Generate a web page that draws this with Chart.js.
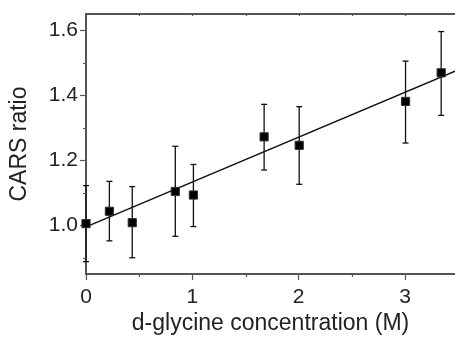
<!DOCTYPE html>
<html>
<head>
<meta charset="utf-8">
<script src="https://cdn.jsdelivr.net/npm/chart.js@4/dist/chart.umd.min.js"></script>
<style>
  html, body { margin: 0; padding: 0; background: #fff; }
  #wrap { width: 455px; height: 337px; }
</style>
</head>
<body>
<div id="wrap"><canvas id="c" width="455" height="337"></canvas></div>
<script>
// ---- data ----
const concentration = [0, 0.22, 0.435, 0.84, 1.01, 1.675, 2.005, 3.005, 3.34];
const carsRatio     = [1.005, 1.043, 1.008, 1.104, 1.093, 1.272, 1.246, 1.381, 1.469];
const errUpper      = [1.122, 1.135, 1.119, 1.243, 1.187, 1.372, 1.365, 1.505, 1.596];
const errLower      = [0.888, 0.952, 0.900, 0.966, 0.996, 1.170, 1.126, 1.253, 1.338];
const fitX          = [0, 3.47];
const fitY          = [0.995, 1.474];
const xTickValues   = [0, 1, 2, 3];
const xMinorTicks   = [0.5, 1.5, 2.5];
const yTickValues   = [1.0, 1.2, 1.4, 1.6];
const yMinorTicks   = [0.9, 1.1, 1.3, 1.5];

const points = concentration.map((x, i) => ({ x: x, y: carsRatio[i] }));
const errorSegments = [];
concentration.forEach((x, i) => {
  errorSegments.push({ x: x, y: errLower[i] });
  errorSegments.push({ x: x, y: errUpper[i] });
  errorSegments.push({ x: x, y: null });
});
const fitLine = fitX.map((x, i) => ({ x: x, y: fitY[i] }));

const AXIS = '#555555';
const TEXT = '#222222';
const FONT = "'Liberation Sans', Arial, sans-serif";

const framePlugin = {
  id: 'frame',
  afterDatasetsDraw(chart) {
    const { ctx, chartArea: a, scales } = chart;
    ctx.save();
    ctx.strokeStyle = AXIS;
    ctx.lineWidth = 2;
    ctx.beginPath();
    ctx.moveTo(a.left - 1, a.top);
    ctx.lineTo(chart.width, a.top);
    ctx.stroke();
    ctx.lineWidth = 1.2;
    xMinorTicks.forEach(v => {
      const px = Math.round(scales.x.getPixelForValue(v)) + 0.5;
      ctx.beginPath(); ctx.moveTo(px, a.bottom); ctx.lineTo(px, a.bottom + 3); ctx.stroke();
    });
    xMinorTicks.concat(xTickValues).forEach(v => {
      const px = Math.round(scales.x.getPixelForValue(v)) + 0.5;
      ctx.beginPath(); ctx.moveTo(px, a.top); ctx.lineTo(px, a.top + 2); ctx.stroke();
    });
    yMinorTicks.forEach(v => {
      const py = Math.round(scales.y.getPixelForValue(v)) + 0.5;
      ctx.beginPath(); ctx.moveTo(a.left, py); ctx.lineTo(a.left - 3, py); ctx.stroke();
    });
    ctx.restore();
  }
};

new Chart(document.getElementById('c'), {
  type: 'scatter',
  data: {
    datasets: [
      {
        label: 'data',
        data: points,
        order: 0,
        pointStyle: 'rect',
        pointRadius: 5.8,
        pointHoverRadius: 5.8,
        backgroundColor: '#000000',
        borderColor: '#333333',
        borderWidth: 1,
        clip: false
      },
      {
        label: 'error',
        data: errorSegments,
        order: 1,
        showLine: true,
        spanGaps: false,
        borderColor: '#111111',
        borderWidth: 1.3,
        pointStyle: 'line',
        pointRadius: 3,
        pointHoverRadius: 3,
        pointBorderColor: '#111111',
        pointBorderWidth: 1.3,
        clip: false
      },
      {
        label: 'fit',
        data: fitLine,
        order: 2,
        showLine: true,
        borderColor: '#111111',
        borderWidth: 1.4,
        pointRadius: 0,
        clip: false
      }
    ]
  },
  options: {
    responsive: false,
    animation: false,
    devicePixelRatio: 1,
    layout: { autoPadding: false, padding: { top: 14, right: 0, left: 0, bottom: 0 } },
    plugins: {
      legend: { display: false },
      tooltip: { enabled: false }
    },
    scales: {
      x: {
        type: 'linear',
        min: 0,
        max: 3.47,
        afterBuildTicks: s => { s.ticks = xTickValues.map(v => ({ value: v })); },
        afterFit: s => { s.height = 63; s.paddingLeft = 0; s.paddingRight = 0; },
        grid: { drawOnChartArea: false, tickLength: 6, tickWidth: 1.2, tickColor: AXIS },
        border: { display: true, color: AXIS, width: 2 },
        ticks: {
          color: TEXT,
          font: { family: FONT, size: 21 },
          padding: 5,
          maxRotation: 0,
          callback: v => String(v)
        },
        title: {
          display: true,
          text: 'd-glycine concentration (M)',
          color: TEXT,
          font: { family: FONT, size: 23 },
          padding: { top: 0, bottom: 0 }
        }
      },
      y: {
        type: 'linear',
        min: 0.85,
        max: 1.65,
        afterBuildTicks: s => { s.ticks = yTickValues.map(v => ({ value: v })); },
        afterFit: s => { s.width = 86; s.paddingTop = 0; s.paddingBottom = 0; },
        grid: { drawOnChartArea: false, tickLength: 6, tickWidth: 1.2, tickColor: AXIS },
        border: { display: true, color: AXIS, width: 2 },
        ticks: {
          color: TEXT,
          font: { family: FONT, size: 21 },
          padding: 2,
          callback: v => Number(v).toFixed(1)
        },
        title: {
          display: true,
          text: 'CARS ratio',
          color: TEXT,
          font: { family: FONT, size: 23 },
          padding: { top: 6, bottom: 0 }
        }
      }
    }
  },
  plugins: [framePlugin]
});
</script>
</body>
</html>
